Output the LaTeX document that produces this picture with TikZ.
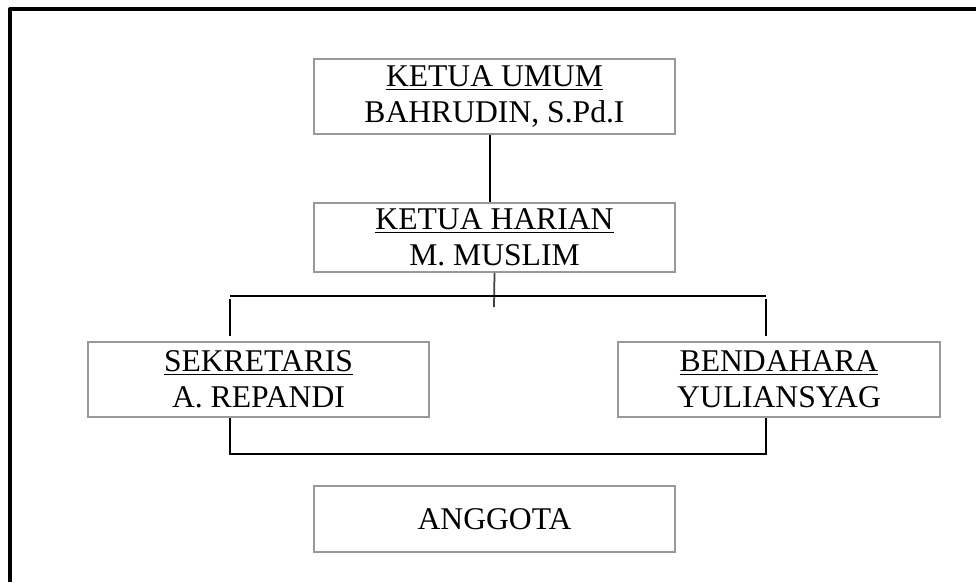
\documentclass[tikz,border=0pt]{standalone}
\usepackage{fontspec}
\setmainfont{Liberation Serif}
\usetikzlibrary{calc}

\begin{document}
\begin{tikzpicture}[x=0.02cm, y=-0.02cm,
	jabatan/.style={draw=gray!80, line width=0.9pt, inner sep=0pt, align=center,
		font=\fontsize{18}{20.5}\selectfont},
	garis/.style={black, line width=1pt},
	bingkai/.style={black, line width=2.3pt, line join=round}]
	\useasboundingbox (0,0) rectangle (976,582);
	% bingkai
	\draw[bingkai] (10,582) -- (10,9) -- (976,9);
	% kotak jabatan
	\node[jabatan, minimum width=7.22cm, minimum height=1.5cm] (umum) at (494.5,96.5) {\underline{KETUA UMUM}\\BAHRUDIN, S.Pd.I};
	\node[jabatan, minimum width=7.22cm, minimum height=1.38cm] (harian) at (494.5,237.5) {\underline{KETUA HARIAN}\\M. MUSLIM};
	\node[jabatan, minimum width=6.82cm, minimum height=1.5cm] (sekretaris) at (258.5,379.5) {\underline{SEKRETARIS}\\A. REPANDI};
	\node[jabatan, minimum width=6.44cm, minimum height=1.5cm] (bendahara) at (779,379.5) {\underline{BENDAHARA}\\YULIANSYAG};
	\node[jabatan, minimum width=7.22cm, minimum height=1.32cm] (anggota) at (494.5,519) {ANGGOTA};
	% garis
	\coordinate (cabang) at (494,307);
	\coordinate (kiri) at (230,296);
	\coordinate (kanan) at (766,296);
	\coordinate (bawahkiri) at (230,454);
	\coordinate (bawahkanan) at (766,454);
	\draw[garis] ([xshift=-0.09cm]umum.south) -- ([xshift=-0.09cm]harian.north);
	\draw[garis, draw=black!75] (harian.south) -- (cabang);
	\draw[garis] (kiri) -- (kanan);
	\foreach \ujung/\kotak in {kiri/sekretaris, kanan/bendahara}
	{\draw[garis, shorten <=0.06cm, shorten >=0.1cm] (\ujung) -- (\ujung |- \kotak.north);}
	\draw[garis] (sekretaris.south -| bawahkiri) -- (bawahkiri) -- (bawahkanan) -- (bendahara.south -| bawahkanan);
\end{tikzpicture}
\end{document}
